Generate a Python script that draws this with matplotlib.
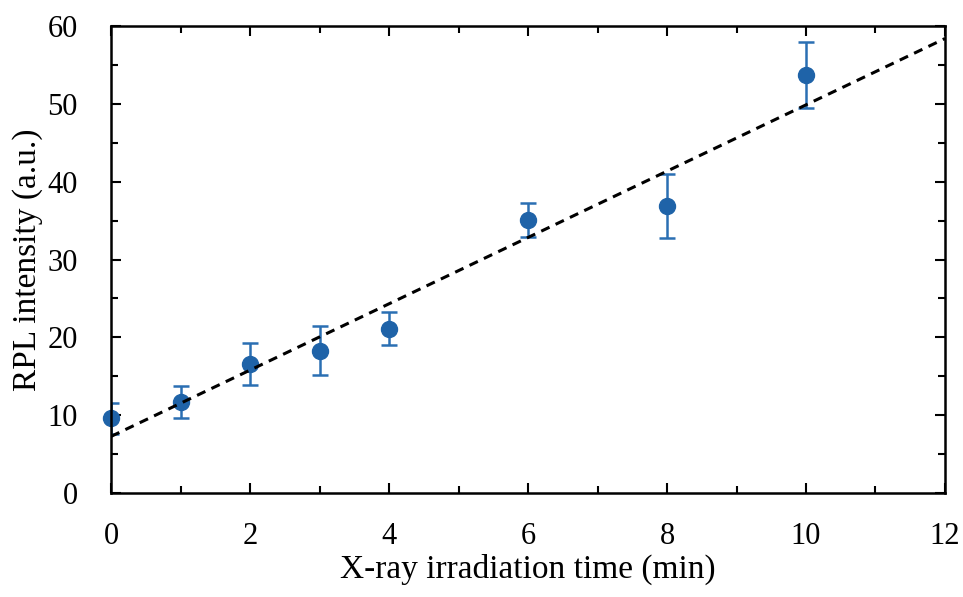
import matplotlib
matplotlib.use("Agg")
import matplotlib.pyplot as plt
import numpy as np
from matplotlib.ticker import MultipleLocator

time_min = [0, 1, 2, 3, 4, 6, 8, 10]
rpl = [9.6, 11.7, 16.6, 18.3, 21.1, 35.1, 36.9, 53.7]
rpl_err = [2.0, 2.1, 2.7, 3.1, 2.1, 2.2, 4.1, 4.2]

plt.rcParams["font.family"] = ["Liberation Serif", "DejaVu Serif"]
plt.rcParams["font.size"] = 22

fig = plt.figure(figsize=(9.63, 5.97), dpi=100)
ax = fig.add_axes([0.1153, 0.1742, 0.8660, 0.7822])

# linear fit through the points
slope, intercept = np.polyfit(time_min, rpl, 1)
xfit = np.array([0, 12])
ax.plot(xfit, slope * xfit + intercept, "--", color="black", lw=2.2, dashes=(3, 2.2), zorder=3)

ax.errorbar(time_min, rpl, yerr=rpl_err, fmt="none", ecolor="#2a6fb3",
            elinewidth=1.8, capsize=5.5, capthick=1.8, zorder=2)
ax.plot(time_min, rpl, "o", color="#1f63a8", ms=11.5, zorder=2.5, clip_on=False)

ax.set_xlim(0, 12)
ax.set_ylim(0, 60)
ax.xaxis.set_major_locator(MultipleLocator(2))
ax.xaxis.set_minor_locator(MultipleLocator(1))
ax.yaxis.set_major_locator(MultipleLocator(10))
ax.yaxis.set_minor_locator(MultipleLocator(5))
ax.tick_params(which="both", direction="in", top=True, right=True, width=1.5)
ax.tick_params(which="major", length=7)
ax.tick_params(which="minor", length=5)
ax.tick_params(axis="x", which="major", pad=21)
ax.tick_params(axis="y", which="major", pad=24)
for s in ax.spines.values():
    s.set_linewidth(1.8)

ax.set_xlabel("X-ray irradiation time (min)", fontsize=24, labelpad=2)
ax.set_ylabel("RPL intensity (a.u.)", fontsize=24, labelpad=3)

fig.savefig("out.png", dpi=100)
